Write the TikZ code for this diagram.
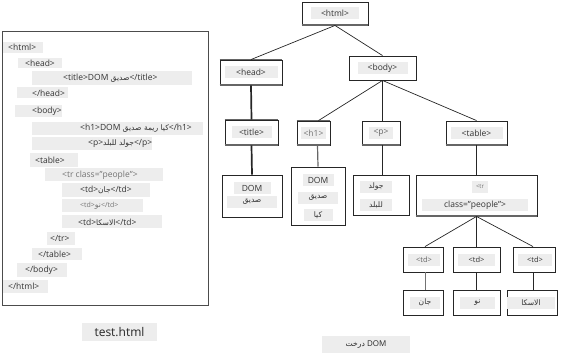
\documentclass[tikz,border=0pt]{standalone}
\usepackage{fontspec}
\setmainfont{Open Sans}
\newfontfamily\arfont[Script=Arabic]{DejaVu Sans}
\TeXXeTstate=1
\newcommand{\rtltxt}[1]{{\arfont\fontsize{7.6}{9}\selectfont\beginR #1\endR}}
\begin{document}
\begin{tikzpicture}[x=1pt,y=-1pt,
  bgfill/.style={fill=black!7},
  code/.style={font=\fontsize{8.5}{10}\selectfont, text=black!80, inner sep=0pt, anchor=west},
  codelight/.style={code, text=black!55},
  tbox/.style={draw=black!85, line width=0.9pt, fill=white, inner sep=0pt},
  ttxt/.style={fill=black!7, font=\fontsize{8.5}{10}\selectfont, text=black!80, inner sep=1.5pt, minimum height=12pt},
  conn/.style={draw=black!85, line width=0.7pt},
  thickconn/.style={draw=black!85, line width=1.7pt}]
\useasboundingbox (0,0) rectangle (561,358);

% ---------- left panel ----------
\draw[black!70, line width=1pt] (2,32) rectangle (208,305);

\fill[bgfill] (3,42) rectangle (43,53);
\node[code] (c1) at (8,47.5) {<html>};
\fill[bgfill] (18,58) rectangle (62,68);
\node[code] (c2) at (25,63) {<head>};
\fill[bgfill] (32,71) rectangle (192,85);
\node[code] (c3) at (63,78) {<title>DOM \rtltxt{صديق}</title>};
\fill[bgfill] (17,87) rectangle (68,98);
\node[code] (c4) at (32,93) {</head>};
\fill[bgfill] (15,105) rectangle (62,117);
\node[code] (c5) at (32,111) {<body>};
\fill[bgfill] (32,122) rectangle (203,135);
\node[code] (c6) at (80,128.5) {<h1>DOM \rtltxt{كيا ريمة صديق}</h1>};
\fill[bgfill] (32,137) rectangle (152,150);
\node[code] (c7) at (88,143.5) {<p>\rtltxt{جولد للبلد}</p>};
\fill[bgfill] (30,153) rectangle (78,167);
\node[code] (c8) at (35,160) {<table>};
\fill[bgfill] (45,168) rectangle (163,181);
\node[codelight] (c9) at (62,175) {<tr class="people">};
\fill[bgfill] (62,183) rectangle (150,197);
\node[code] (c10) at (80,190) {<td>\rtltxt{جان}</td>};
\fill[bgfill] (62,199) rectangle (143,212);
\node[codelight, font=\fontsize{7}{8}\selectfont] (c11) at (80,205.5) {<td>\rtltxt{نو}</td>};
\fill[bgfill] (62,215) rectangle (162,228);
\node[code] (c12) at (78,222) {<td>\rtltxt{الاسكا}</td>};
\fill[bgfill] (47,232) rectangle (75,245);
\node[code] (c13) at (50,238.5) {</tr>};
\fill[bgfill] (32,248) rectangle (82,260);
\node[code] (c14) at (38,254) {</table>};
\fill[bgfill] (17,263) rectangle (67,277);
\node[code] (c15) at (25,270) {</body>};
\fill[bgfill] (3,280) rectangle (48,293);
\node[code] (c16) at (8,286.5) {</html>};

\node[fill=black!7, minimum width=75pt, minimum height=18pt, inner sep=0pt,
      font=\fontsize{12}{14}\selectfont, text=black!85] (testlbl) at (119.5,332) {test.html};
\node[fill=black!7, minimum width=88pt, minimum height=17pt, inner sep=0pt,
      font=\fontsize{8}{10}\selectfont, text=black!85] (domlbl) at (366,344.5) {\rtltxt{درخت} DOM};

% ---------- tree boxes ----------
\node[tbox, minimum width=66pt, minimum height=23pt] (html) at (335,13.5) {};
\node[tbox, minimum width=62pt, minimum height=25pt] (head) at (251,72.5) {};
\node[tbox, minimum width=67pt, minimum height=24pt] (body) at (382.5,68) {};
\node[tbox, minimum width=53pt, minimum height=25pt] (title) at (251.5,132.5) {};
\node[tbox, minimum width=33pt, minimum height=24pt] (h1) at (313.5,133) {};
\node[tbox, minimum width=38pt, minimum height=24pt] (p) at (381,133) {};
\node[tbox, minimum width=61pt, minimum height=24pt] (table) at (476.5,133) {};
\node[tbox, minimum width=60pt, minimum height=42pt] (dom1) at (252,196) {};
\node[tbox, minimum width=54pt, minimum height=58pt] (dom2) at (318,196) {};
\node[tbox, minimum width=56pt, minimum height=40pt] (pc) at (381,195) {};
\node[tbox, minimum width=121pt, minimum height=41pt] (tr) at (476.5,195.5) {};
\node[tbox, minimum width=40pt, minimum height=25pt] (td1) at (423,259.5) {};
\node[tbox, minimum width=47pt, minimum height=25pt] (td2) at (476.5,259.5) {};
\node[tbox, minimum width=42pt, minimum height=25pt] (td3) at (534,259.5) {};
\node[tbox, minimum width=40pt, minimum height=25pt] (td1c) at (423,302.5) {};
\node[tbox, minimum width=47pt, minimum height=25pt] (td2c) at (476.5,302.5) {};
\node[tbox, minimum width=50pt, minimum height=25pt] (td3c) at (532,302.5) {};

% heavier grey lower edges of some boxes
\foreach \b in {html,head,title,h1,p,table,tr}
  \draw[black!60, line width=2pt] (\b.south west) -- (\b.south east);
\foreach \b in {head,title,h1}
  \draw[black!60, line width=1.6pt] (\b.north west) -- (\b.north east);

% ---------- tree texts ----------
\node[ttxt, minimum width=48pt] (thtml) at (html) {<html>};
\node[ttxt, minimum width=53pt] (thead) at (head) {<head>};
\node[ttxt, minimum width=50pt] (tbody) at (body) {<body>};
\node[ttxt, minimum width=40pt] (ttitle) at (title) {<title>};
\node[ttxt, minimum width=25pt, text=black!55] (th1) at (h1) {<h1>};
\node[ttxt, minimum width=24pt, text=black!60] (tp) at (p) {<p>};
\node[ttxt, minimum width=52pt] (ttable) at (table) {<table>};
\node[ttxt, minimum width=37pt] (d1a) at (252,188) {DOM};
\node[ttxt, minimum width=50pt] (d1b) at (252,202) {\rtltxt{صديق}};
\node[ttxt, minimum width=31pt] (d2a) at (318,180) {DOM};
\node[ttxt, minimum width=40pt] (d2b) at (318,198) {\rtltxt{صديق}};
\node[ttxt, minimum width=29pt] (d2c) at (318,215) {\rtltxt{كيا}};
\node[ttxt, minimum width=32pt] (pca) at (376,187) {\rtltxt{جولد}};
\node[ttxt, minimum width=32pt] (pcb) at (376,205) {\rtltxt{للبلد}};
\node[ttxt, minimum width=16pt, font=\fontsize{6}{7}\selectfont, text=black!55] (tra) at (480,187) {<tr};
\node[ttxt, minimum width=106pt] (trb) at (475,205) {class="people">};
\node[ttxt, minimum width=32pt, font=\fontsize{7.5}{9}\selectfont, text=black!60] (ttd1) at (424,259.5) {<td>};
\node[ttxt, minimum width=37pt, font=\fontsize{7.5}{9}\selectfont] (ttd2) at (476.5,259.5) {<td>};
\node[ttxt, minimum width=34pt, font=\fontsize{7.5}{9}\selectfont] (ttd3) at (535,259.5) {<td>};
\node[ttxt, minimum width=30pt] (td1t) at (425,302.5) {\rtltxt{جان}};
\node[ttxt, minimum width=35pt] (td2t) at (477.5,302.5) {\rtltxt{نو}};
\node[ttxt, minimum width=48pt] (td3t) at (531,302.5) {\rtltxt{الاسكا}};

% ---------- connectors ----------
\draw[conn] (html.south) -- (head.north);
\draw[conn] (html.south) -- (body.north);
\draw[thickconn] (head.south) -- (title.north);
\draw[thickconn] (title.south) -- (dom1.north);
\draw[conn] (body.south) -- ([xshift=5pt]h1.north);
\draw[conn] (body.south) -- (p.north -| body.south);
\draw[conn] (body.south) -- (table.north);
\draw[conn, black!60, line width=1.2pt] ([xshift=4pt]h1.south) -- (dom2.north);
\draw[conn] (p.south -| body.south) -- (pc.north -| body.south);
\draw[conn] (table.south) -- (tr.north);
\draw[conn] (tr.south) -- ([xshift=2pt]td1.north);
\draw[conn] (tr.south) -- (td2.north);
\draw[conn] (tr.south) -- ([xshift=-1pt]td3.north);
\draw[conn, black!55, line width=1pt] ([xshift=2pt]td1.south) -- ([xshift=2pt]td1c.north);
\draw[conn] (td2.south) -- (td2c.north);
\draw[conn] ([xshift=-1pt]td3.south) -- ([xshift=1pt]td3c.north);
\end{tikzpicture}
\end{document}
